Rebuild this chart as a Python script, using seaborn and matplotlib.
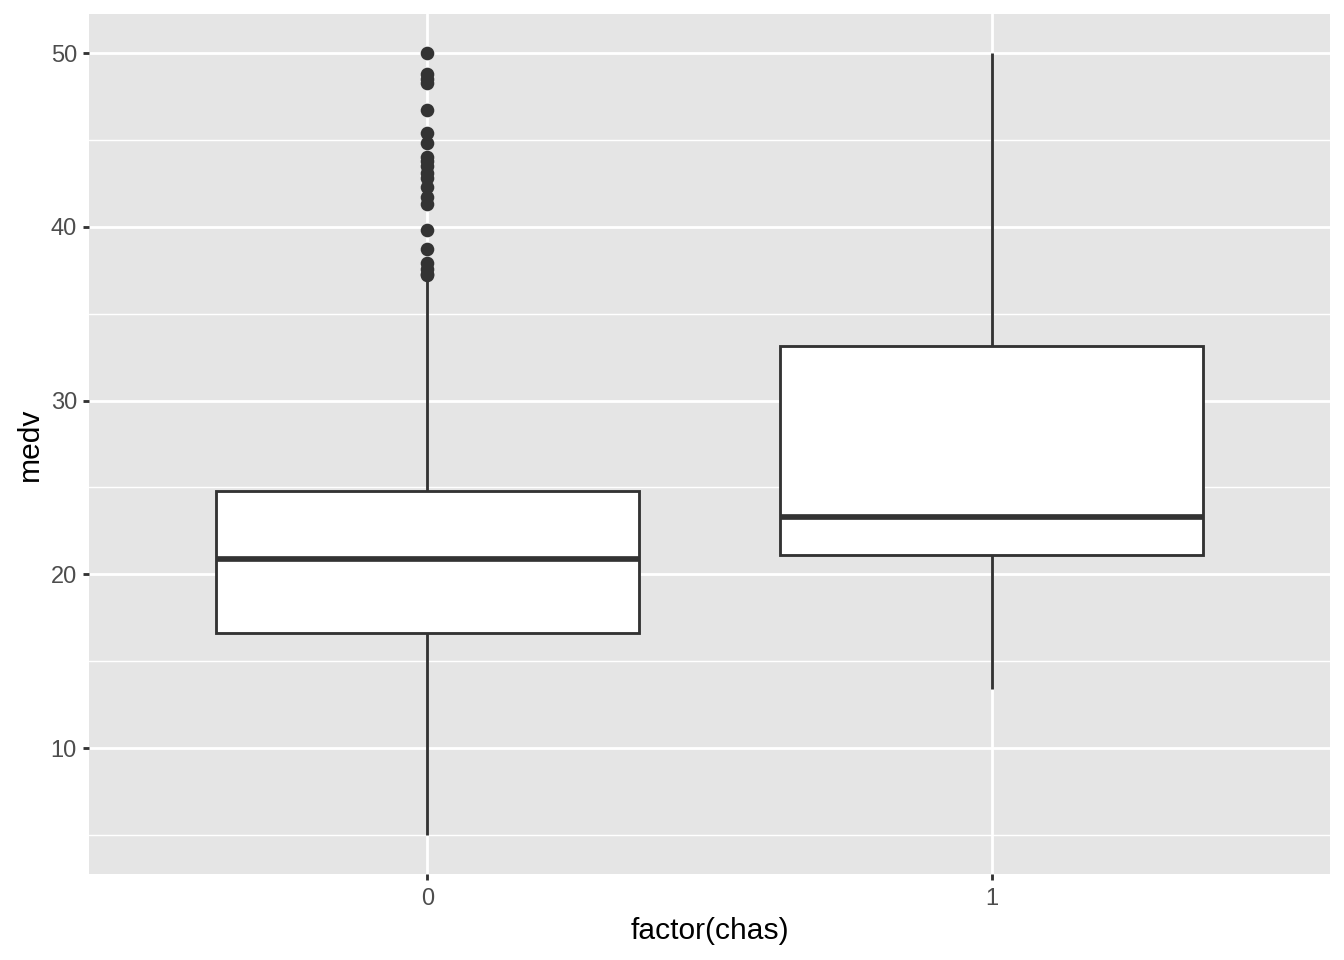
import numpy as np
import pandas as pd
import matplotlib
matplotlib.use("Agg")
import matplotlib.pyplot as plt
import seaborn as sns
from matplotlib.ticker import FixedLocator

# ---- data (medv values per chas group, chosen to reproduce the quartiles/whiskers/outliers) ----
chas0_medv = [
    5.0,
    5.6, 7.2, 8.1, 8.8, 9.7, 10.4, 10.9, 11.7, 12.3, 12.7, 13.1, 13.4, 13.8, 14.1, 14.4,
    14.9, 15.2, 15.4, 15.6, 16.1, 16.2, 16.4, 16.5,
    16.6,
    16.7, 16.8, 17.1, 17.4, 17.8, 18.2, 18.4, 18.5, 18.7, 18.9, 19.1, 19.3, 19.4, 19.5, 19.6,
    19.8, 19.9, 20.0, 20.1, 20.3, 20.4, 20.6, 20.8,
    20.9,
    21.0, 21.2, 21.4, 21.6, 21.7, 21.9, 22.0, 22.2, 22.4, 22.6, 22.8, 22.9, 23.1, 23.3, 23.6,
    23.8, 23.9, 24.0, 24.1, 24.3, 24.4, 24.5, 24.7,
    24.8,
    28.7, 33.4, 37.0,
    37.2, 37.3, 37.6, 37.9, 38.7, 39.8, 41.3, 41.7, 42.3, 42.8, 43.1, 43.5, 43.8, 44.0, 44.8,
    45.4, 46.7, 48.3, 48.5, 48.8, 50.0,
]
chas1_medv = [13.4, 17.0, 21.1, 22.0, 23.3, 27.0, 33.15, 46.0, 50.0]
categories = ["0", "1"]
yticks = [10, 20, 30, 40, 50]

df = pd.DataFrame({
    "chas": [categories[0]] * len(chas0_medv) + [categories[1]] * len(chas1_medv),
    "medv": chas0_medv + chas1_medv,
})

sns.set_theme(style="darkgrid")
plt.rcParams["font.family"] = ["Liberation Sans", "DejaVu Sans"]

DPI = 144
fig = plt.figure(figsize=(1344 / DPI, 960 / DPI), dpi=DPI)
ax = fig.add_axes([89 / 1344, 1 - 874 / 960, (1330 - 89) / 1344, (874 - 14) / 960])
ax.set_facecolor("#E5E5E5")

lw = 0.5 * 72.27 / 25.4  # ggplot 0.5 mm in points
dark = "#333333"

sns.boxplot(
    data=df, x="chas", y="medv", order=categories, ax=ax,
    width=0.75, color="white", saturation=1, linecolor=dark, linewidth=lw,
    showcaps=False, whis=1.5, fliersize=6.8,
    flierprops=dict(marker="o", markerfacecolor=dark, markeredgecolor=dark, markeredgewidth=0),
    medianprops=dict(linewidth=2 * lw, color=dark),
    boxprops=dict(facecolor="white", edgecolor=dark),
    zorder=3,
)

ax.set_xlim(-0.6, 1.6)
ax.set_ylim(2.75, 52.25)

ax.yaxis.set_major_locator(FixedLocator(yticks))
ax.yaxis.set_minor_locator(FixedLocator([5, 15, 25, 35, 45]))
ax.set_yticklabels([str(v) for v in yticks])

ax.grid(False)
ax.grid(which="major", axis="both", color="white", linewidth=lw, zorder=0)
ax.grid(which="minor", axis="y", color="white", linewidth=lw / 2, zorder=0)
ax.set_axisbelow(True)

for s in ax.spines.values():
    s.set_visible(False)

ax.tick_params(which="major", length=3.0, width=lw, color=dark, labelsize=11.8,
               labelcolor="#4D4D4D", pad=3.0, left=True, bottom=True)
ax.tick_params(axis="x", which="major", pad=4.0)
ax.tick_params(which="minor", length=0, left=False, bottom=False)

ax.set_xlabel("factor(chas)", fontsize=15, color="black", labelpad=3.5)
ax.set_ylabel("medv", fontsize=15, color="black", labelpad=3.5)

fig.savefig("out.png", dpi=DPI, facecolor="white")
